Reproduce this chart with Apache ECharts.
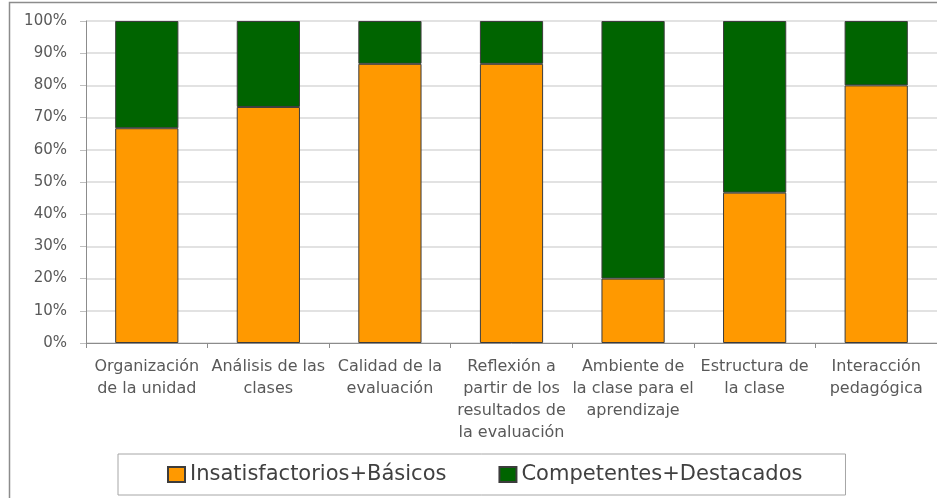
<!DOCTYPE html>
<html>
<head>
<meta charset="utf-8">
<style>
    html, body { margin: 0; padding: 0; background: #fff; }
    #chart { width: 937px; height: 498px; }
</style>
<script src="https://cdn.jsdelivr.net/npm/echarts@6/dist/echarts.min.js"></script>
</head>
<body>
<div id="chart"></div>
<script>
// categorías (etiquetas del eje x, con los saltos de línea del original)
const categories = [
    "Organización\nde la unidad",
    "Análisis de las\nclases",
    "Calidad de la\nevaluación",
    "Reflexión a\npartir de los\nresultados de\nla evaluación",
    "Ambiente de\nla clase para el\naprendizaje",
    "Estructura de\nla clase",
    "Interacción\npedagógica"
];
// porcentajes
const insatisfactoriosBasicos = [66.7, 73.3, 86.7, 86.7, 20, 46.7, 80];
const competentesDestacados = [33.3, 26.7, 13.3, 13.3, 80, 53.3, 20];
const seriesNames = ["Insatisfactorios+Básicos", "Competentes+Destacados"];
const yTicks = [0, 10, 20, 30, 40, 50, 60, 70, 80, 90, 100];

const chart = echarts.init(document.getElementById("chart"));
const textColor = "#595959";
const fontFamily = "'DejaVu Sans', sans-serif";

// estilo común de las barras
const barDefaults = {
    type: "bar",
    stack: "total",
    barCategoryGap: "48%",
    itemStyle: { borderColor: "#3c3c3c", borderWidth: 1 },
    emphasis: { disabled: true },
    data: []
};

const option = {
    animation: false,
    color: ["#ff9900", "#006400"],
    textStyle: { fontFamily: fontFamily },
    grid: { left: 86, top: 21, width: 854, height: 322 },
    // marco exterior del gráfico (recortado a la derecha y abajo)
    graphic: [{
        type: "rect",
        shape: { x: 9.5, y: 2.5, width: 2000, height: 2000 },
        style: { fill: "none", stroke: "#8c8c8c", lineWidth: 1.5 },
        silent: true
    }],
    legend: {
        left: 118,
        top: 454,
        padding: [10, 43, 10, 49],
        itemGap: 52,
        itemWidth: 17,
        itemHeight: 15,
        icon: "rect",
        borderColor: "#a6a6a6",
        borderWidth: 1,
        textStyle: { fontSize: 21, color: "#404040", fontFamily: fontFamily },
        data: seriesNames
    },
    xAxis: {
        type: "category",
        data: categories,
        axisLine: { lineStyle: { color: "#8c8c8c", width: 1 } },
        axisTick: { show: true, length: 5, lineStyle: { color: "#8c8c8c" } },
        axisLabel: {
            interval: 0,
            margin: 13,
            lineHeight: 22,
            fontSize: 16,
            color: textColor,
            fontFamily: fontFamily
        }
    },
    yAxis: {
        type: "value",
        min: yTicks[0],
        max: yTicks[yTicks.length - 1],
        interval: yTicks[1] - yTicks[0],
        axisLine: { show: true, lineStyle: { color: "#8c8c8c", width: 1 } },
        axisTick: { show: true, length: 6, lineStyle: { color: "#bfbfbf" } },
        splitLine: { lineStyle: { color: "#d9d9d9", width: 1.5 } },
        axisLabel: {
            formatter: "{value}%",
            margin: 19,
            fontSize: 15,
            color: textColor,
            fontFamily: fontFamily
        }
    },
    series: [
        Object.assign({}, barDefaults, { name: seriesNames[0], data: insatisfactoriosBasicos }),
        Object.assign({}, barDefaults, { name: seriesNames[1], data: competentesDestacados })
    ]
};

chart.setOption(option);
</script>
</body>
</html>
